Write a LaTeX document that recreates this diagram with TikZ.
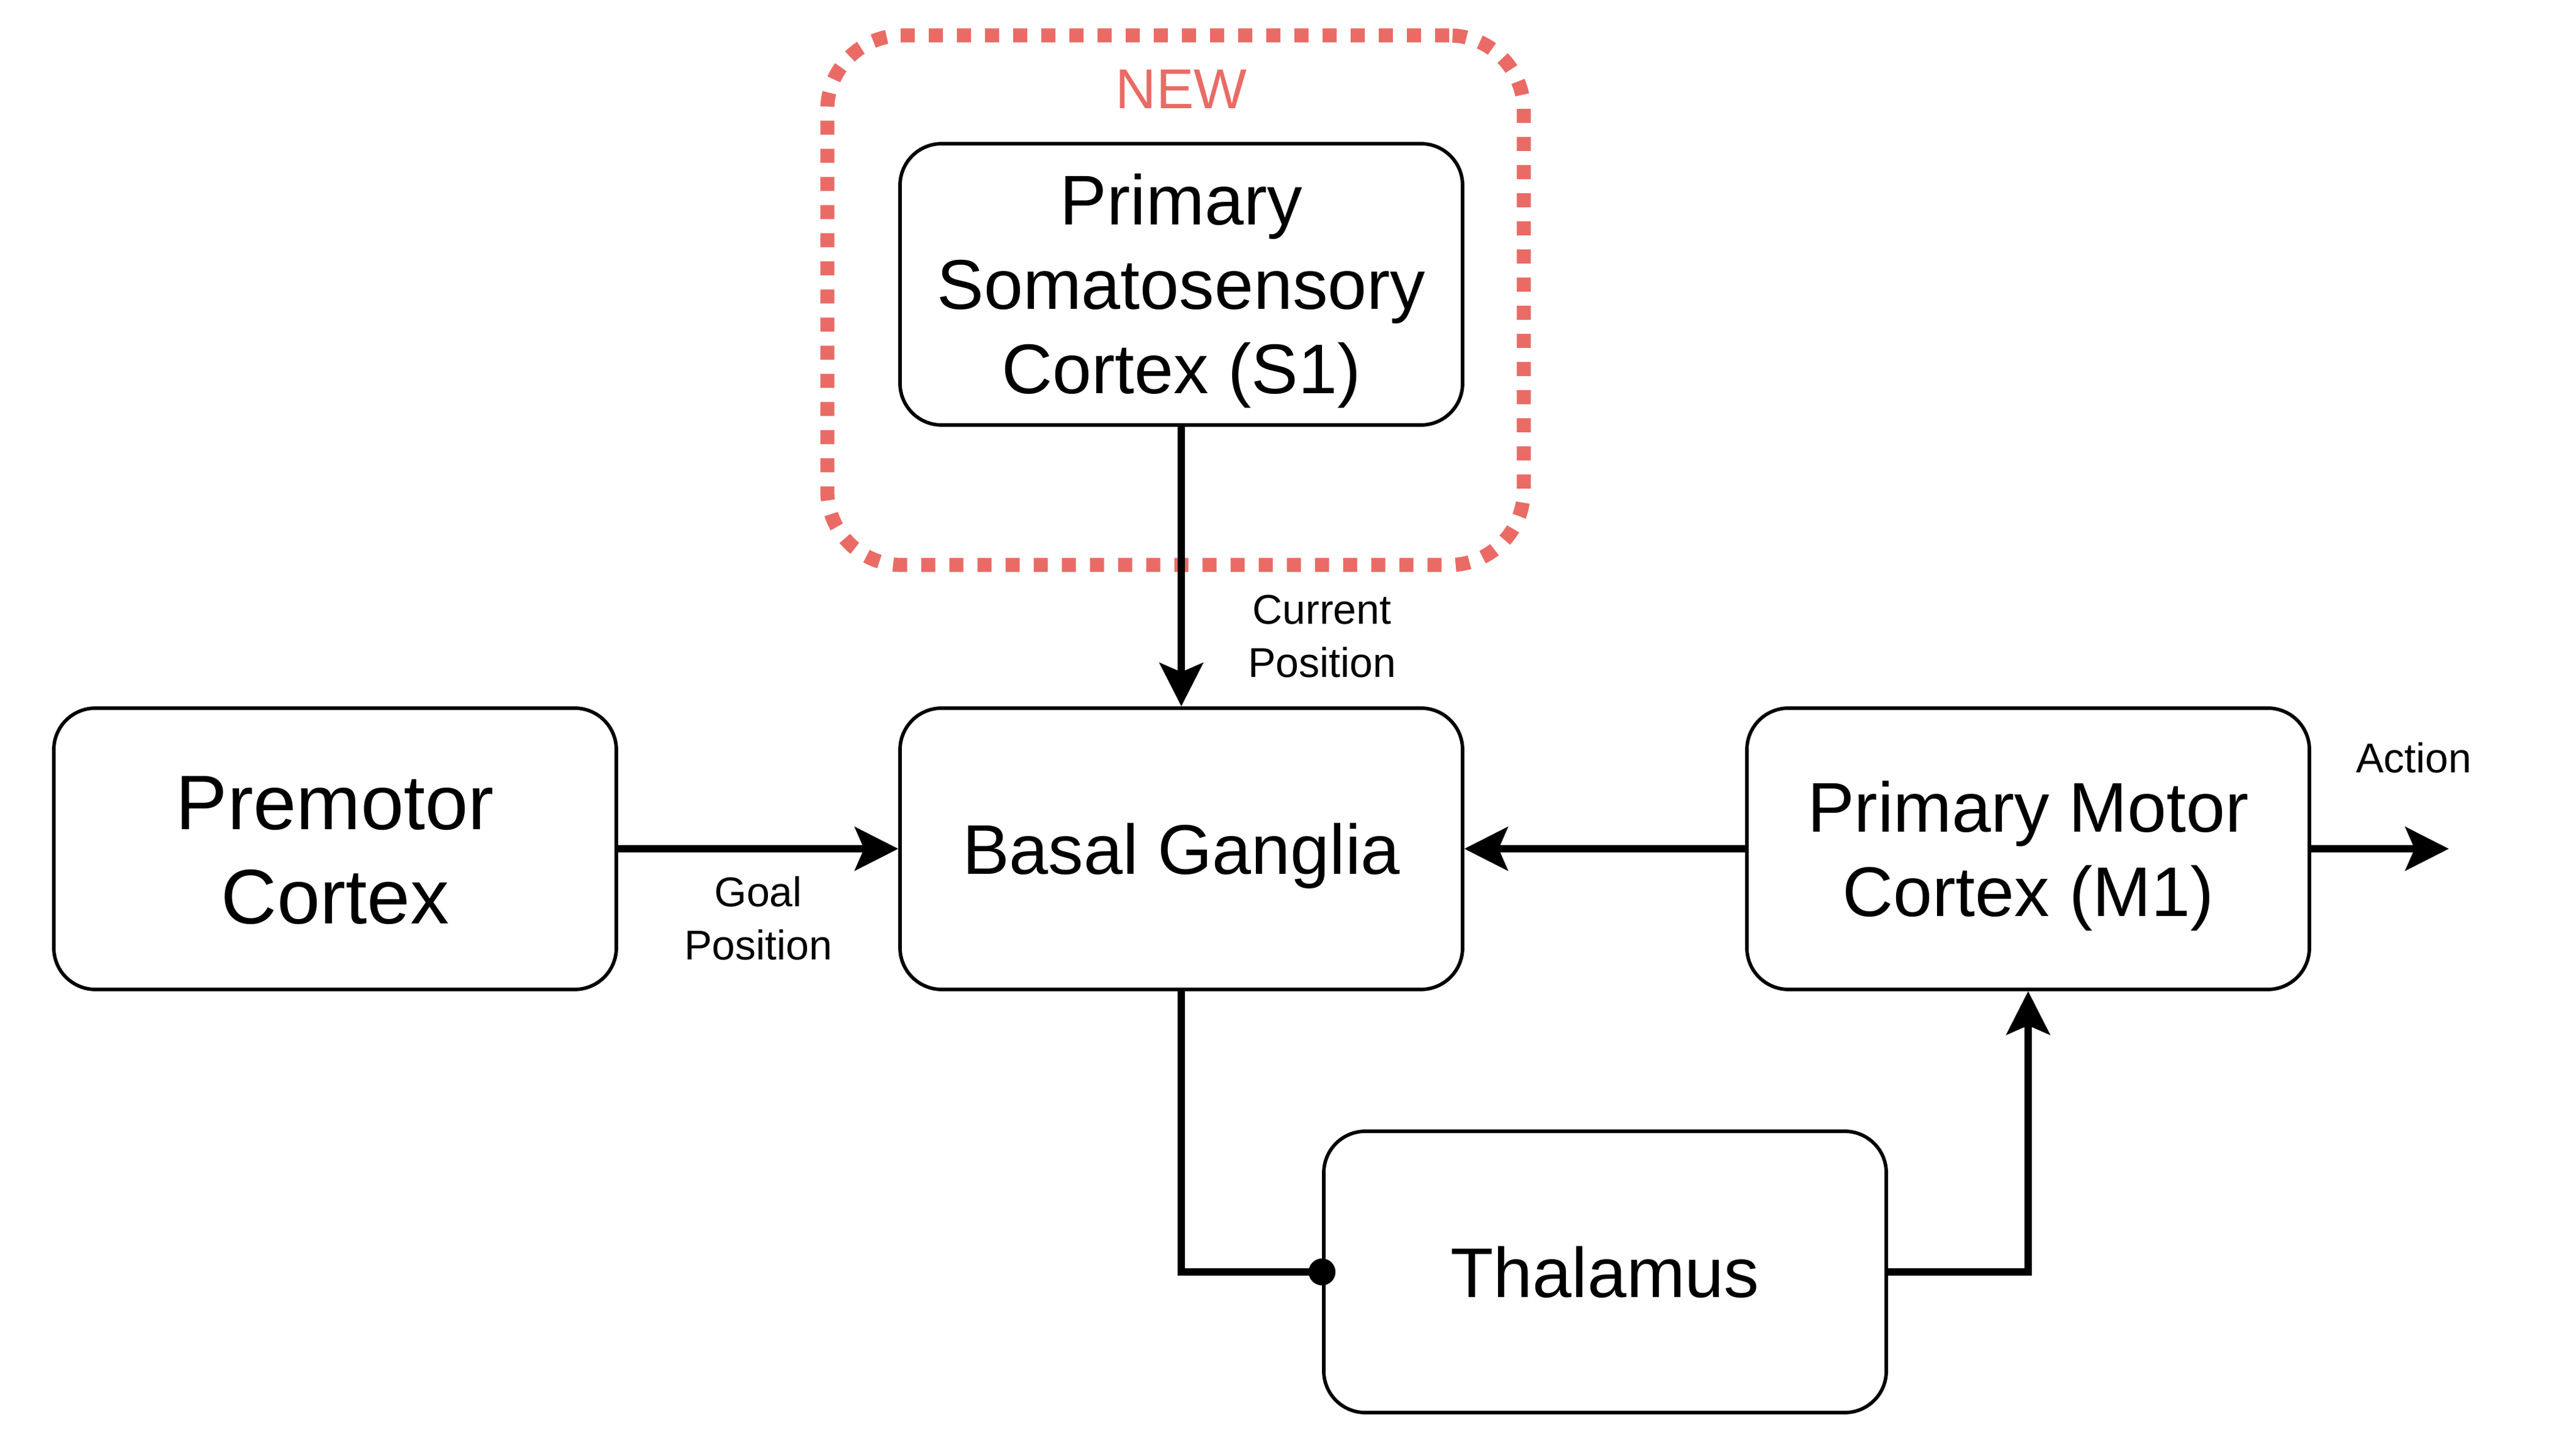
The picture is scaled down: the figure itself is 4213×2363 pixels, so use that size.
\documentclass[tikz,border=0pt]{standalone}
\usepackage{fontspec}
\setmainfont{Liberation Sans}
\usetikzlibrary{arrows.meta}
\definecolor{newred}{HTML}{EA6B66}
\newcommand\lgS{\rule[-7pt]{0pt}{34.5pt}}
\newcommand\pmS{\rule[-7.9pt]{0pt}{38.5pt}}
\newcommand\smS{\rule[-4.8pt]{0pt}{21.75pt}}
\tikzset{
  box/.style={draw, line width=1.4375pt, rounded corners=17pt,
    minimum width=230pt, minimum height=115pt, inner sep=0pt,
    align=center, font=\fontsize{28.75}{34.5}\selectfont},
  conn/.style={line width=2.875pt},
  arr/.style={conn, -{Stealth[length=17.75pt,width=17.75pt,inset=3.75pt]}},
  lbl/.style={align=center, inner sep=0pt, font=\fontsize{17}{21.75}\selectfont},
  groupbox/.style={draw=newred, line width=5.75pt, dash pattern=on 5.75pt off 5.75pt,
    rounded corners=30.5pt, minimum width=284.75pt, minimum height=216.5pt, inner sep=0pt},
}
\begin{document}
\begin{tikzpicture}[x=0.25pt, y=-0.25pt]
\useasboundingbox (0,0) rectangle (4213,2363);
% group
\node[groupbox] (grp) at (1922.5,491) {};
\node[anchor=base, inner sep=0pt, text=newred, font=\fontsize{23}{27.5}\selectfont] (newlbl) at (1932,178) {NEW};
% boxes
\node[box] (s1) at (1932,465) {\lgS Primary\\\lgS Somatosensory\\\lgS Cortex (S1)};
\node[box, font=\fontsize{31.625}{38.5}\selectfont] (pm) at (548,1388) {\pmS Premotor\\\pmS Cortex};
\node[box] (bg) at (1932,1388) {\lgS Basal Ganglia};
\node[box] (m1) at (3317,1388) {\lgS Primary Motor\\\lgS Cortex (M1)};
\node[box] (th) at (2625,2080) {\lgS Thalamus};
\coordinate (act) at (4005,1388);
% connectors
\draw[arr] (s1) -- (bg);
\draw[arr] (pm) -- (bg);
\draw[arr] (m1) -- (bg);
\draw[arr] (m1) -- (act);
\draw[conn] (bg.south) |- (th.west);
\fill (th.west) circle[radius=5.5pt];
\draw[arr] (th.east) -| (m1.south);
% labels
\node[lbl] (curpos) at (2162,1040) {\smS Current\\\smS Position};
\node[lbl] (goalpos) at (1240,1502) {\smS Goal\\\smS Position};
\node[anchor=base, inner sep=0pt, font=\fontsize{17}{21.75}\selectfont] (actlbl) at (3948,1264) {Action};
\end{tikzpicture}
\end{document}
